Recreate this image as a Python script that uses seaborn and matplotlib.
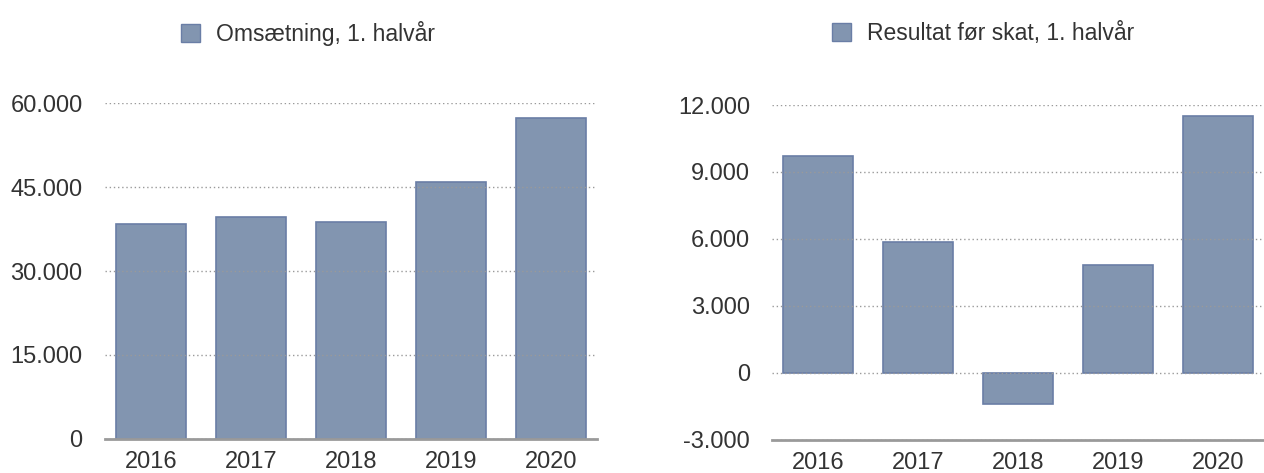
import matplotlib
matplotlib.use("Agg")
import matplotlib.pyplot as plt
from matplotlib.patches import Patch
from matplotlib.ticker import FuncFormatter
import seaborn as sns

YEARS = ["2016", "2017", "2018", "2019", "2020"]
REVENUE = [38400, 39600, 38700, 45900, 57300]
PROFIT = [9700, 5850, -1400, 4850, 11500]

REV_TICKS = [0, 15000, 30000, 45000, 60000]
PROFIT_TICKS = [-3000, 0, 3000, 6000, 9000, 12000]

REV_LABEL = "Omsætning, 1. halvår"
PROFIT_LABEL = "Resultat før skat, 1. halvår"

BAR = "#8295b0"
EDGE = "#6a7ea6"
GRID = "#9a9a9a"
TEXT = "#333333"

sns.set_theme(style="white")
plt.rcParams["font.family"] = ["Liberation Sans", "DejaVu Sans"]

fig = plt.figure(figsize=(12.64, 4.73), dpi=100)
ax1 = fig.add_axes([0.083, 0.072, 0.389, 0.710])
ax2 = fig.add_axes([0.611, 0.070, 0.389, 0.708])

thousands = FuncFormatter(lambda v, p: f"{v:,.0f}".replace(",", "."))


def draw(ax, values, ticks, label, legend_x):
    sns.barplot(x=YEARS, y=values, color=BAR, edgecolor=EDGE, linewidth=1.2,
                width=0.7, saturation=1, ax=ax)
    ax.set_xlim(-0.46, 4.46)
    ax.set_ylim(ticks[0], ticks[-1])
    ax.set_yticks(ticks)
    ax.yaxis.set_major_formatter(thousands)
    # gridlines sit in front of the bars, as in the original
    ax.set_axisbelow(False)
    ax.grid(axis="y", color=GRID, linestyle=(0, (1, 2)), linewidth=1)
    ax.grid(axis="x", visible=False)
    for s in ["top", "right", "left"]:
        ax.spines[s].set_visible(False)
    ax.spines["bottom"].set_color(GRID)
    ax.spines["bottom"].set_linewidth(2)
    ax.spines["bottom"].set_zorder(5)
    ax.tick_params(axis="y", length=0, pad=16, labelsize=17, labelcolor=TEXT)
    ax.tick_params(axis="x", length=0, pad=9, labelsize=17, labelcolor=TEXT)
    ax.set_xlabel("")
    ax.set_ylabel("")
    handle = Patch(facecolor=BAR, edgecolor=EDGE, linewidth=1, label=label)
    ax.legend(handles=[handle], loc="center left",
              bbox_to_anchor=(legend_x, 0.930), bbox_transform=fig.transFigure,
              frameon=False, fontsize=16.5, handlelength=0.85, handleheight=0.85,
              handletextpad=0.7, borderaxespad=0, borderpad=0, labelcolor=TEXT)


draw(ax1, REVENUE, REV_TICKS, REV_LABEL, 0.143)
draw(ax2, PROFIT, PROFIT_TICKS, PROFIT_LABEL, 0.658)

fig.savefig("out.png", dpi=100)
